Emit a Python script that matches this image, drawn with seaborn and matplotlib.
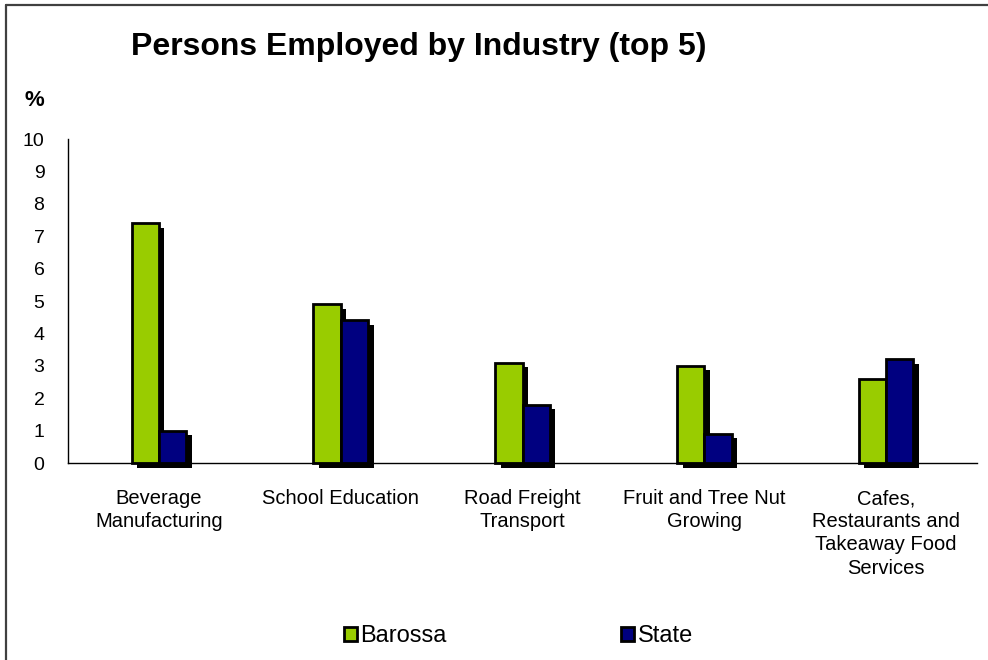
import matplotlib
matplotlib.use("Agg")
import matplotlib.pyplot as plt
import matplotlib.patheffects as pe
from matplotlib.lines import Line2D
from matplotlib.patches import Patch
import seaborn as sns
import pandas as pd

industries = [
    "Beverage\nManufacturing",
    "School Education",
    "Road Freight\nTransport",
    "Fruit and Tree Nut\nGrowing",
    "Cafes,\nRestaurants and\nTakeaway Food\nServices",
]
barossa = [7.4, 4.9, 3.1, 3.0, 2.6]
state = [1.0, 4.4, 1.8, 0.9, 3.2]
series = ["Barossa", "State"]
colors = {"Barossa": "#99CC00", "State": "#000080"}

df = pd.DataFrame({
    "industry": industries * 2,
    "pct": barossa + state,
    "area": ["Barossa"] * len(industries) + ["State"] * len(industries),
})

sns.set_style("white")
plt.rcParams["font.family"] = ["Liberation Sans", "DejaVu Sans"]
plt.rcParams["text.color"] = "black"
plt.rcParams["xtick.color"] = "black"
plt.rcParams["ytick.color"] = "black"
plt.rcParams["xtick.labelcolor"] = "black"
plt.rcParams["ytick.labelcolor"] = "black"

fig = plt.figure(figsize=(9.88, 6.6), dpi=100)
ax = fig.add_axes([68 / 988, 1 - 463 / 660, (977 - 68) / 988, (463 - 139) / 660])

sns.barplot(data=df, x="industry", y="pct", hue="area", hue_order=series,
            palette=colors, width=0.3, gap=0, dodge=True, ax=ax,
            edgecolor="black", linewidth=2.0, legend=False, saturation=1)

shadow = [pe.SimplePatchShadow(offset=(4, -3.3), shadow_rgbFace="black", alpha=1.0),
          pe.Normal()]
for bar in ax.patches:
    bar.set_path_effects(shadow)
    bar.set_clip_on(False)

ax.set_xlim(-0.5, len(industries) - 0.5)
ax.set_ylim(0, 10)
ax.set_yticks(range(0, 11))
ax.set_xlabel("")
ax.set_ylabel("")

# category separators as outward ticks; labels on the category centres
ax.set_xticks([i - 0.5 for i in range(len(industries) + 1)], minor=True)
ax.tick_params(axis="x", which="major", length=0, pad=19, labelsize=14.5)
ax.tick_params(axis="x", which="minor", length=6, width=1, color="black", direction="out")
ax.tick_params(axis="y", which="major", length=6, width=1, color="black",
               direction="out", pad=11, labelsize=14)
for lbl in ax.get_xticklabels():
    lbl.set_multialignment("center")
    lbl.set_linespacing(1.27)

for side in ["top", "right"]:
    ax.spines[side].set_visible(False)
for side in ["left", "bottom"]:
    ax.spines[side].set_color("black")
    ax.spines[side].set_linewidth(1)
ax.set_axisbelow(False)

fig.text(419 / 988, 1 - 47 / 660, "Persons Employed by Industry (top 5)",
         ha="center", va="center", fontsize=23, fontweight="bold", color="black")
fig.text(34 / 988, 1 - 101 / 660, "%", ha="center", va="center",
         fontsize=16, fontweight="bold", color="black")

# legend entries placed individually along the bottom
for name, x0 in zip(series, [344, 621]):
    handle = Patch(facecolor=colors[name], edgecolor="black", linewidth=2.0)
    fig.legend(handles=[handle], labels=[name], loc="center left",
               bbox_to_anchor=(x0 / 988, 1 - 636 / 660), frameon=False,
               fontsize=17, handlelength=0.55, handleheight=0.55,
               handletextpad=0.15, borderpad=0, borderaxespad=0,
               labelcolor="black")

# outer chart frame (top and left edges)
fig.add_artist(Line2D([5.5 / 988, 1], [1 - 4.5 / 660, 1 - 4.5 / 660],
                      transform=fig.transFigure, color="#404040", linewidth=1.6))
fig.add_artist(Line2D([5.5 / 988, 5.5 / 988], [0, 1 - 4.5 / 660],
                      transform=fig.transFigure, color="#404040", linewidth=1.6))

fig.savefig("out.png", dpi=100, facecolor="white")
